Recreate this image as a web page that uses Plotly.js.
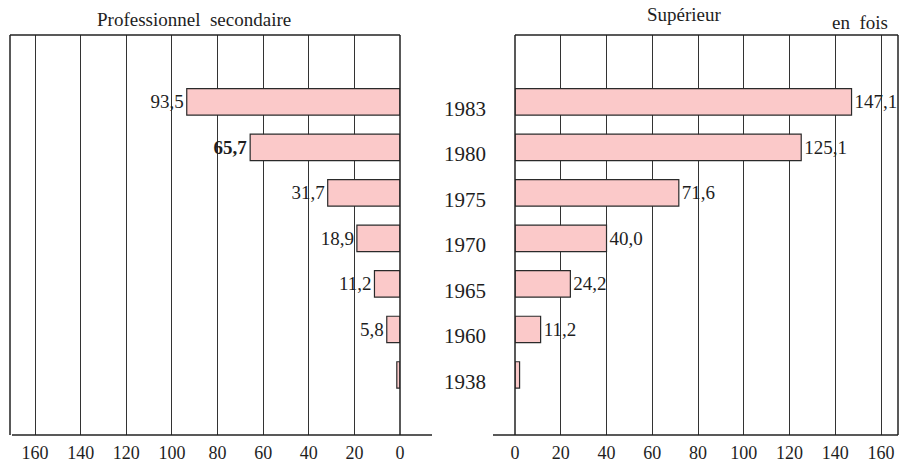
<!DOCTYPE html>
<html><head><meta charset="utf-8">
<script src="https://cdn.plot.ly/plotly-3.0.1.min.js"></script>
<style>html,body{margin:0;padding:0;background:#fff}</style>
</head><body>
<div id="chart" style="width:903px;height:465px"></div>
<script>
const years = ['1938','1960','1965','1970','1975','1980','1983'];
const secondaire = [1.4, 5.8, 11.2, 18.9, 31.7, 65.7, 93.5];
const superieur = [2.0, 11.2, 24.2, 40.0, 71.6, 125.1, 147.1];
const showLabel = [false, true, true, true, true, true, true];
const tickVals = [0, 20, 40, 60, 80, 100, 120, 140, 160];

const W = 903, H = 465;
const fr = v => v.toFixed(1).replace('.', ',');
const serif = '"Liberation Serif", "DejaVu Serif", serif';
const ink = '#1e1e1e';
const barStyle = {color: '#fbc9c9', line: {color: '#2a2a2a', width: 1.2}};

const traces = [
  {type: 'bar', orientation: 'h', y: years, x: secondaire, xaxis: 'x', yaxis: 'y',
   width: 0.58, marker: barStyle, text: secondaire.map((v, i) => showLabel[i] ? fr(v) : ''),
   textposition: 'outside', cliponaxis: false,
   textfont: {family: serif, size: 19, color: ink, weight: years.map(y => y === '1980' ? 700 : 400)},
   hoverinfo: 'skip'},
  {type: 'bar', orientation: 'h', y: years, x: superieur, xaxis: 'x2', yaxis: 'y',
   width: 0.58, marker: barStyle, text: superieur.map((v, i) => showLabel[i] ? fr(v) : ''),
   textposition: 'outside', cliponaxis: false, textfont: {family: serif, size: 19, color: ink},
   hoverinfo: 'skip'}
];

const px = x => x / W;
const py = y => 1 - y / H;

const axisCommon = {
  tickvals: tickVals, ticktext: tickVals.map(String), showgrid: true, gridcolor: '#333', gridwidth: 1,
  zeroline: false, showline: false, ticks: '', ticklabelstandoff: 5,
  tickfont: {family: serif, size: 18, color: ink}, fixedrange: true
};

const ann = years.map((y, i) => ({
  xref: 'paper', yref: 'y', x: px(465), y: i, text: y, showarrow: false, yshift: -7,
  xanchor: 'center', yanchor: 'middle',
  font: {family: serif, size: 21, color: ink}
}));
const title = (x, y, t) => ({xref: 'paper', yref: 'paper', x: px(x), y: py(y), text: t,
  showarrow: false, xanchor: 'center', yanchor: 'middle', font: {family: serif, size: 19, color: ink}});
ann.push(title(194, 20, 'Professionnel  secondaire'));
ann.push(title(684, 15, 'Supérieur'));
ann.push(title(860, 22, 'en  fois'));

const line = (x0, y0, x1, y1) => ({type: 'line', xref: 'paper', yref: 'paper',
  x0: px(x0), y0: py(y0), x1: px(x1), y1: py(y1), line: {color: '#222', width: 1.5}});

const shapes = [
  line(10, 35, 400, 35), line(10, 35, 10, 435), line(400, 35, 400, 435), line(12, 435, 432, 435),
  line(515, 35, 898, 35), line(515, 35, 515, 435), line(898, 35, 898, 435), line(493, 435, 898, 435)
];

const layout = {
  width: W, height: H, margin: {l: 0, r: 0, t: 0, b: 0},
  paper_bgcolor: '#fff', plot_bgcolor: 'rgba(0,0,0,0)', showlegend: false, bargap: 0,
  xaxis: Object.assign({}, axisCommon, {domain: [px(10), px(400)], range: [171, 0], anchor: 'y'}),
  xaxis2: Object.assign({}, axisCommon, {domain: [px(515), px(898)], range: [0, 167.4], anchor: 'y'}),
  yaxis: {type: 'category', categoryarray: years, categoryorder: 'array', domain: [py(435), py(35)], range: [-1.32, 7.47],
    showticklabels: false, showgrid: false, zeroline: false, ticks: '', fixedrange: true},
  annotations: ann, shapes: shapes
};

Plotly.newPlot('chart', traces, layout, {displayModeBar: false, staticPlot: true});
</script>
</body></html>
